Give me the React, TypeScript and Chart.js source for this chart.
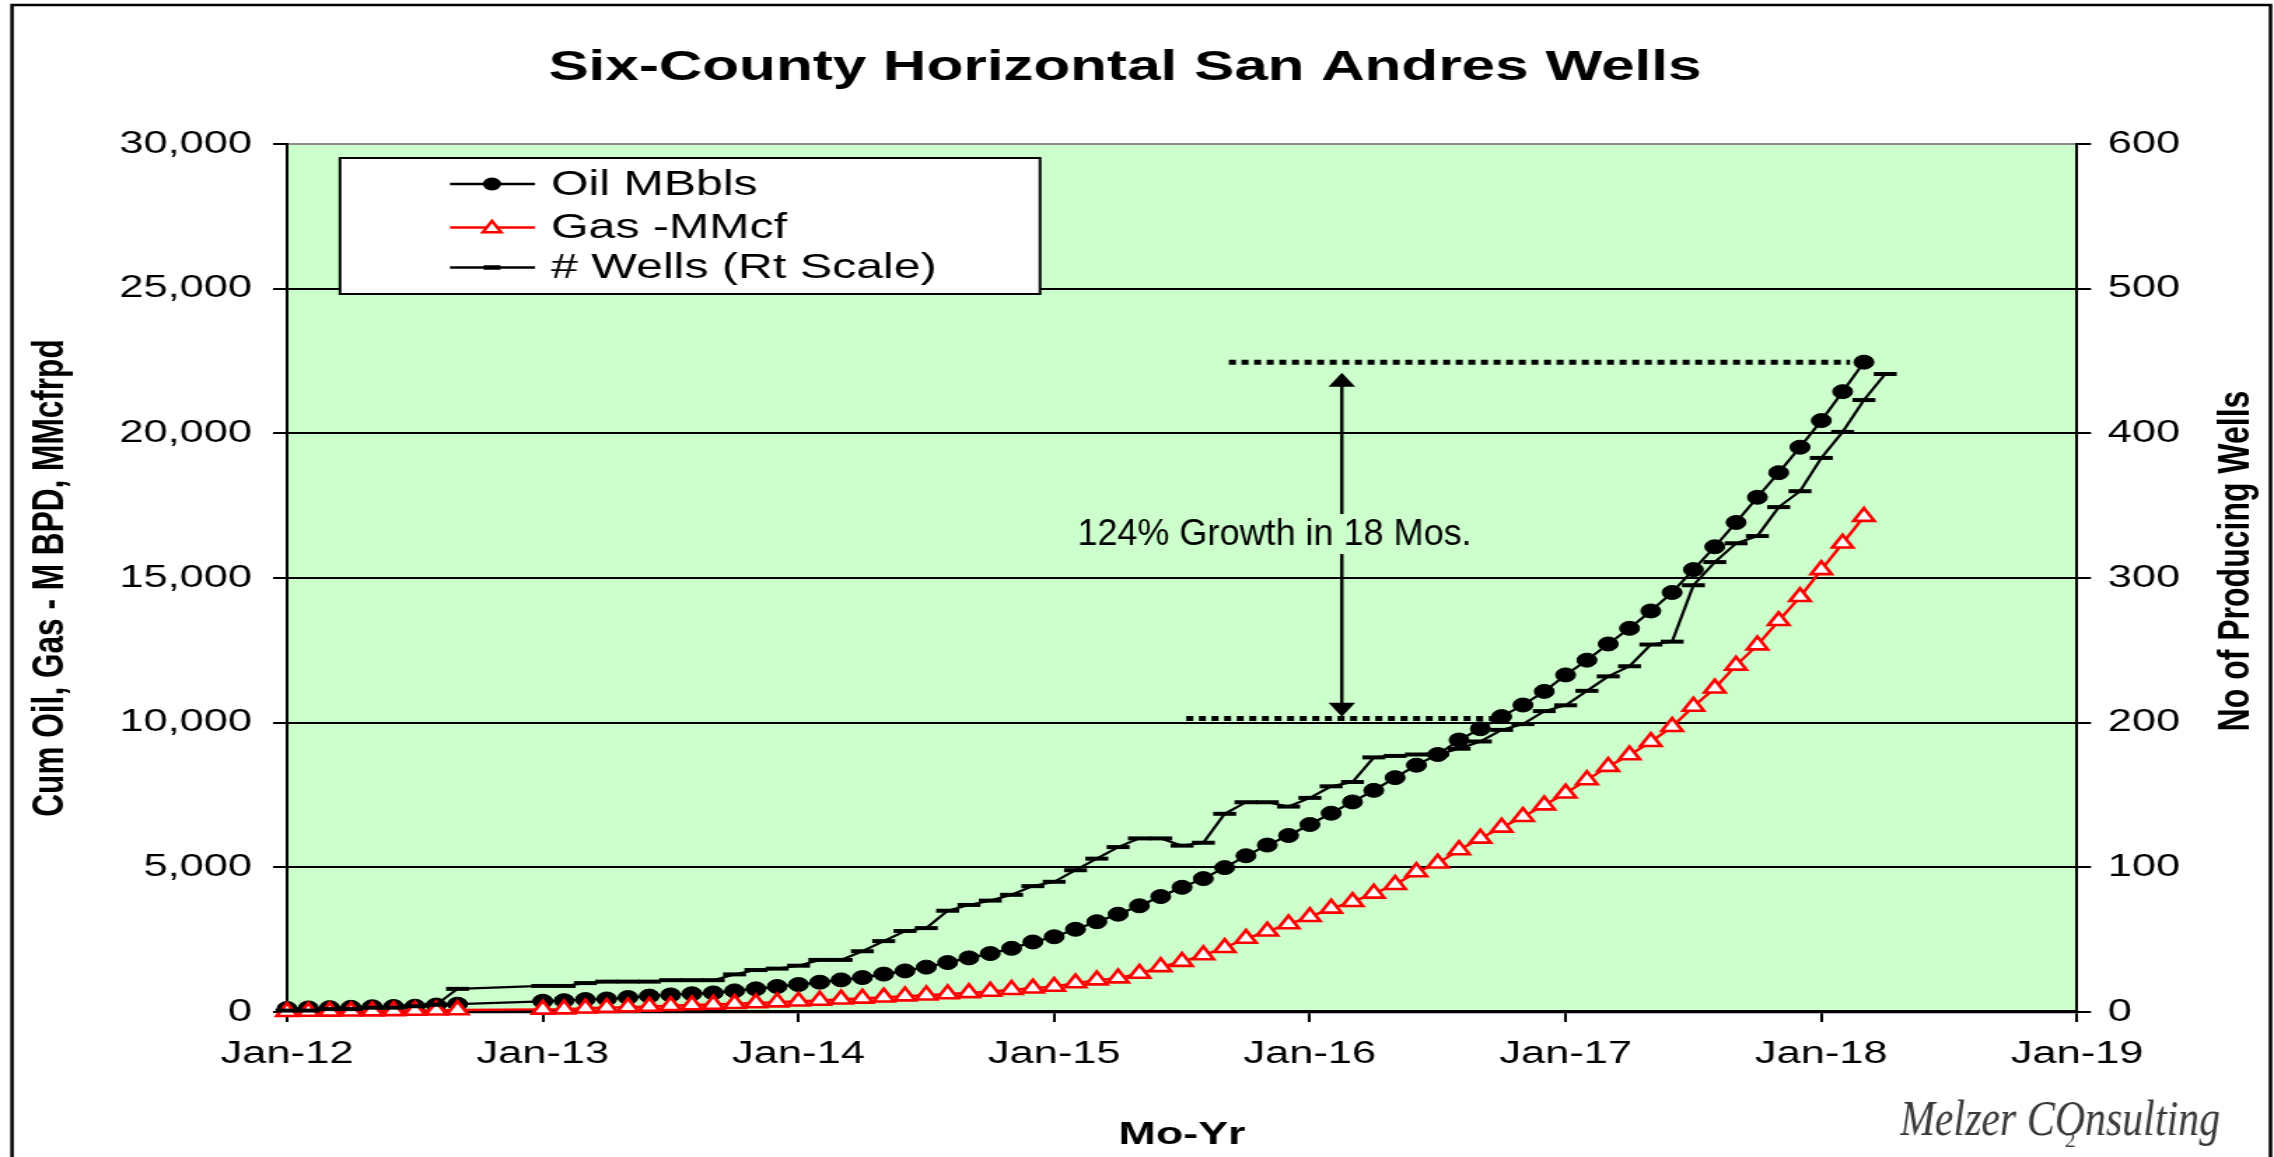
import { useEffect, useRef } from 'react';
import { Chart, registerables } from 'chart.js';

Chart.register(...registerables);

// ---------- canvas geometry (the reference is horizontally stretched, so we draw narrow and stretch via CSS)
const PAGE_W = 2274;
const CANVAS_W = 1624;
const CANVAS_H = 1157;
const S = PAGE_W / CANVAS_W;
const fx = (x: number) => x / S; // page px -> canvas px (horizontal)

const FONT = "'Liberation Sans', Arial, Helvetica, sans-serif";

// ---------- texts
const chartTitle = 'Six-County Horizontal San Andres Wells';
const yAxisTitle = 'Cum Oil, Gas - M BPD, MMcfrpd';
const y1AxisTitle = 'No of Producing Wells';
const xAxisTitle = 'Mo-Yr';
const seriesLabels = ['Oil MBbls', 'Gas -MMcf', '# Wells (Rt Scale)'];
const growthText = '124% Growth in 18 Mos.';
const signature = 'Melzer COnsulting';
const slideNumber = '2';

// ---------- axes
const xTickLabels = ['Jan-12', 'Jan-13', 'Jan-14', 'Jan-15', 'Jan-16', 'Jan-17', 'Jan-18', 'Jan-19'];
const MONTH_NAMES = ['Jan', 'Feb', 'Mar', 'Apr', 'May', 'Jun', 'Jul', 'Aug', 'Sep', 'Oct', 'Nov', 'Dec'];

// ---------- data (monthly; Oct-12..Dec-12 not reported)
const months = [
  'Jan-12', 'Feb-12', 'Mar-12', 'Apr-12', 'May-12', 'Jun-12', 'Jul-12', 'Aug-12', 'Sep-12',
  'Jan-13', 'Feb-13', 'Mar-13', 'Apr-13', 'May-13', 'Jun-13', 'Jul-13', 'Aug-13', 'Sep-13', 'Oct-13', 'Nov-13', 'Dec-13',
  'Jan-14', 'Feb-14', 'Mar-14', 'Apr-14', 'May-14', 'Jun-14', 'Jul-14', 'Aug-14', 'Sep-14', 'Oct-14', 'Nov-14', 'Dec-14',
  'Jan-15', 'Feb-15', 'Mar-15', 'Apr-15', 'May-15', 'Jun-15', 'Jul-15', 'Aug-15', 'Sep-15', 'Oct-15', 'Nov-15', 'Dec-15',
  'Jan-16', 'Feb-16', 'Mar-16', 'Apr-16', 'May-16', 'Jun-16', 'Jul-16', 'Aug-16', 'Sep-16', 'Oct-16', 'Nov-16', 'Dec-16',
  'Jan-17', 'Feb-17', 'Mar-17', 'Apr-17', 'May-17', 'Jun-17', 'Jul-17', 'Aug-17', 'Sep-17', 'Oct-17', 'Nov-17', 'Dec-17',
  'Jan-18', 'Feb-18', 'Mar-18', 'Apr-18',
];

const oilMBbls: (number | null)[] = [
  120, 140, 150, 160, 180, 190, 200, 240, 270,
  370, 390, 430, 450, 500, 550, 590, 630, 660, 730, 800, 880,
  950, 1030, 1110, 1190, 1310, 1420, 1550, 1710, 1870, 2020, 2200, 2420,
  2600, 2860, 3120, 3380, 3670, 3990, 4310, 4610, 4990, 5400, 5770, 6100,
  6480, 6870, 7260, 7660, 8100, 8530, 8900, 9400, 9790, 10210, 10610, 11080,
  11650, 12160, 12720, 13260, 13860, 14500, 15290, 16080, 16920, 17790, 18640, 19520,
  20440, 21440, 22460, null,
];

const gasMMcf: (number | null)[] = [
  10, 15, 20, 25, 30, 40, 50, 60, 70,
  90, 100, 130, 150, 170, 190, 215, 240, 260, 285, 310, 340,
  370, 400, 440, 470, 510, 550, 580, 620, 660, 710, 770, 820,
  880, 1000, 1100, 1170, 1330, 1560, 1740, 1970, 2220, 2540, 2790, 3040,
  3290, 3580, 3810, 4100, 4400, 4840, 5140, 5600, 6000, 6380, 6750, 7150,
  7560, 8020, 8480, 8880, 9340, 9860, 10560, 11190, 11980, 12680, 13520, 14350,
  15280, 16200, 17120, null,
];

const producingWells: (number | null)[] = [
  1, 1, 2, 2, 3, 3, 4, 5, 16,
  18, 18, 20, 21, 21, 21, 22, 22, 22, 26, 29, 30,
  32, 36, 36, 42, 49, 56, 58, 70, 74, 77, 81, 87,
  90, 98, 106, 114, 120, 120, 115, 117, 137, 145, 145, 142,
  148, 156, 159, 176, 177, 178, 178, 182, 187, 195, 199, 208,
  212, 222, 232, 239, 254, 256, 295, 311, 324, 329, 349, 360,
  383, 401, 423, 441,
];

// ---------- annotation (in data units: month index since Jan-12, oil MBbls)
const growthLowLevel = 10140;
const growthHighLevel = 22460;
const lowLineMonths = [42.2, 56.7];
const highLineMonths = [44.2, 73.35];
const arrowMonth = 49.5;
const arrowTips = [10206, 22095];

const monthIndex = (label: string) => {
  const [m, y] = label.split('-');
  return (Number(y) - 12) * 12 + MONTH_NAMES.indexOf(m);
};

const toPoints = (values: (number | null)[]) =>
  months
    .map((m, i) => (values[i] == null ? null : { x: monthIndex(m), y: values[i] as number }))
    .filter((p): p is { x: number; y: number } => p !== null);

const GREEN = '#CCFFCC';
const OIL_R = 7;
const GAS_R = 8.5;
const WELL_R = 8.2;

function drawTriangle(ctx: CanvasRenderingContext2D, x: number, y: number, r: number) {
  ctx.beginPath();
  ctx.moveTo(x, y - r);
  ctx.lineTo(x + 0.866 * r, y + 0.5 * r);
  ctx.lineTo(x - 0.866 * r, y + 0.5 * r);
  ctx.closePath();
}

const decorPlugin = {
  id: 'decor',
  beforeDraw(chart: any) {
    const { ctx, chartArea: a } = chart;
    ctx.save();
    ctx.fillStyle = '#fff';
    ctx.fillRect(0, 0, chart.width, chart.height);
    ctx.fillStyle = GREEN;
    ctx.fillRect(a.left, a.top, a.right - a.left, a.bottom - a.top);
    ctx.restore();
  },
  afterDraw(chart: any) {
    const ctx: CanvasRenderingContext2D = chart.ctx;
    const xs = chart.scales.x;
    const ys = chart.scales.y;
    ctx.save();

    // outer frame
    ctx.strokeStyle = '#000';
    ctx.lineWidth = 2.5;
    ctx.strokeRect(fx(12), 5, fx(2270.5) - fx(12), CANVAS_H + 40);

    // title
    ctx.fillStyle = '#000';
    ctx.font = `bold 43px ${FONT}`;
    ctx.textAlign = 'center';
    ctx.textBaseline = 'alphabetic';
    ctx.fillText(chartTitle, fx(1125), 80);

    // legend
    const lx0 = fx(340), lx1 = fx(1040), ly0 = 158, ly1 = 294;
    ctx.fillStyle = '#fff';
    ctx.fillRect(lx0, ly0, lx1 - lx0, ly1 - ly0);
    ctx.strokeStyle = '#000';
    ctx.lineWidth = 2;
    ctx.strokeRect(lx0, ly0, lx1 - lx0, ly1 - ly0);
    const rowsY = [184, 227.5, 267.5];
    const colors = ['#000', '#FF0000', '#000'];
    const sx0 = fx(450), sx1 = fx(535), sxm = fx(492);
    rowsY.forEach((ry, i) => {
      ctx.strokeStyle = colors[i];
      ctx.lineWidth = 2.4;
      ctx.beginPath();
      ctx.moveTo(sx0, ry);
      ctx.lineTo(sx1, ry);
      ctx.stroke();
      if (i === 0) {
        ctx.fillStyle = '#000';
        ctx.beginPath();
        ctx.arc(sxm, ry, 6.5, 0, Math.PI * 2);
        ctx.fill();
      } else if (i === 1) {
        drawTriangle(ctx, sxm, ry + 1, 7.5);
        ctx.fillStyle = '#fff';
        ctx.fill();
        ctx.lineWidth = 2.5;
        ctx.strokeStyle = '#FF0000';
        ctx.stroke();
      } else {
        ctx.strokeStyle = '#000';
        ctx.lineWidth = 4.5;
        ctx.beginPath();
        ctx.moveTo(sxm - 6, ry);
        ctx.lineTo(sxm + 6, ry);
        ctx.stroke();
      }
      ctx.fillStyle = '#000';
      ctx.font = `34.5px ${FONT}`;
      ctx.textAlign = 'left';
      ctx.textBaseline = 'middle';
      ctx.fillText(chart.data.datasets[i].label, fx(551), ry + 1);
    });

    // growth annotation: dotted levels
    ctx.strokeStyle = '#000';
    ctx.lineWidth = 5;
    ctx.setLineDash([5, 4]);
    const yHigh = ys.getPixelForValue(growthHighLevel);
    const yLow = ys.getPixelForValue(growthLowLevel);
    ctx.beginPath();
    ctx.moveTo(xs.getPixelForValue(highLineMonths[0]), yHigh);
    ctx.lineTo(xs.getPixelForValue(highLineMonths[1]), yHigh);
    ctx.moveTo(xs.getPixelForValue(lowLineMonths[0]), yLow);
    ctx.lineTo(xs.getPixelForValue(lowLineMonths[1]), yLow);
    ctx.stroke();
    ctx.setLineDash([]);

    // double arrow
    const ax = xs.getPixelForValue(arrowMonth);
    const yBot = ys.getPixelForValue(arrowTips[0]);
    const yTop = ys.getPixelForValue(arrowTips[1]);
    const headH = 14, headW = 9.5;
    ctx.lineWidth = 2.4;
    ctx.beginPath();
    ctx.moveTo(ax, yTop + headH - 1);
    ctx.lineTo(ax, yBot - headH + 1);
    ctx.stroke();
    ctx.fillStyle = '#000';
    ctx.beginPath();
    ctx.moveTo(ax, yTop);
    ctx.lineTo(ax + headW, yTop + headH);
    ctx.lineTo(ax - headW, yTop + headH);
    ctx.closePath();
    ctx.fill();
    ctx.beginPath();
    ctx.moveTo(ax, yBot);
    ctx.lineTo(ax + headW, yBot - headH);
    ctx.lineTo(ax - headW, yBot - headH);
    ctx.closePath();
    ctx.fill();

    // growth text (not stretched in the reference)
    ctx.save();
    ctx.translate(fx(1274.5), 534);
    ctx.scale(1 / S, 1);
    ctx.font = `36px ${FONT}`;
    const tw = ctx.measureText(growthText).width;
    ctx.fillStyle = GREEN;
    ctx.fillRect(-tw / 2 - 6, -20, tw + 12, 40);
    ctx.fillStyle = '#000';
    ctx.textAlign = 'center';
    ctx.textBaseline = 'middle';
    ctx.fillText(growthText, 0, 1);
    ctx.restore();

    // right axis title
    ctx.save();
    ctx.translate(fx(2237), 561);
    ctx.rotate(-Math.PI / 2);
    ctx.font = `bold 32px ${FONT}`;
    ctx.fillStyle = '#000';
    ctx.textAlign = 'center';
    ctx.textBaseline = 'middle';
    ctx.fillText(y1AxisTitle, 0, 0);
    ctx.restore();

    // signature (fit to the reference width, taller glyphs)
    ctx.save();
    ctx.translate(fx(1900), 1135);
    const sigFamily = "'Liberation Serif', 'DejaVu Serif', serif";
    ctx.font = `italic 50px ${sigFamily}`;
    const sw = ctx.measureText(signature).width;
    ctx.scale(320 / S / sw, 1);
    ctx.fillStyle = '#3a3a3a';
    ctx.textAlign = 'left';
    ctx.textBaseline = 'alphabetic';
    ctx.fillText(signature, 0, 0);
    ctx.restore();

    ctx.save();
    ctx.translate(fx(2070), 1147);
    ctx.scale(1 / S, 1);
    ctx.font = `22px 'Liberation Serif', serif`;
    ctx.fillStyle = '#444';
    ctx.textAlign = 'center';
    ctx.textBaseline = 'alphabetic';
    ctx.fillText(slideNumber, 0, 0);
    ctx.restore();

    ctx.restore();
  },
};

export default function App() {
  const canvasRef = useRef<HTMLCanvasElement | null>(null);

  useEffect(() => {
    if (!canvasRef.current) return;
    const tickFont = { family: FONT, size: 31 };
    const chart = new Chart(canvasRef.current, {
      type: 'line',
      data: {
        datasets: [
          {
            label: seriesLabels[0],
            data: toPoints(oilMBbls),
            yAxisID: 'y',
            borderColor: '#000',
            backgroundColor: '#000',
            borderWidth: 2.2,
            pointStyle: 'circle',
            pointRadius: OIL_R,
            pointBackgroundColor: '#000',
            pointBorderColor: '#000',
            pointBorderWidth: 1,
            tension: 0,
            clip: false,
            order: 2,
            spanGaps: true,
            fill: false,
          },
          {
            label: seriesLabels[1],
            data: toPoints(gasMMcf),
            yAxisID: 'y',
            borderColor: '#FF0000',
            backgroundColor: '#FFFFFF',
            borderWidth: 2.4,
            pointStyle: 'triangle',
            pointRadius: GAS_R,
            pointBackgroundColor: '#FFFFFF',
            pointBorderColor: '#FF0000',
            pointBorderWidth: 2.6,
            tension: 0,
            clip: false,
            order: 1,
            spanGaps: true,
            fill: false,
          },
          {
            label: seriesLabels[2],
            data: toPoints(producingWells),
            yAxisID: 'y1',
            borderColor: '#000',
            backgroundColor: '#000',
            borderWidth: 2.2,
            pointStyle: 'line',
            pointRadius: WELL_R,
            pointBorderColor: '#000',
            pointBorderWidth: 4,
            tension: 0,
            clip: false,
            order: 0,
            spanGaps: true,
            fill: false,
          },
        ],
      },
      options: {
        animation: false,
        responsive: false,
        devicePixelRatio: 1,
        events: [],
        layout: { padding: { top: 144, left: 0, right: 0, bottom: 0 } },
        plugins: {
          legend: { display: false },
          title: { display: false },
          tooltip: { enabled: false },
        },
        scales: {
          x: {
            type: 'linear',
            min: 0,
            max: 84,
            afterFit: (s: any) => {
              s.height = CANVAS_H - 1012;
            },
            ticks: {
              stepSize: 12,
              color: '#000',
              font: tickFont,
              padding: 14,
              maxRotation: 0,
              autoSkip: false,
              callback: (v: any) => xTickLabels[Math.round(Number(v) / 12)] ?? '',
            },
            grid: { drawOnChartArea: false, drawTicks: true, tickLength: 10, color: '#000', lineWidth: 2 },
            border: { display: true, color: '#000', width: 3.3 },
            title: {
              display: true,
              text: xAxisTitle,
              color: '#000',
              font: { family: FONT, size: 32, weight: 'bold' },
              padding: { top: 0, bottom: 3 },
            },
          },
          y: {
            type: 'linear',
            position: 'left',
            min: 0,
            max: 30000,
            afterFit: (s: any) => {
              s.width = 205;
            },
            ticks: {
              stepSize: 5000,
              color: '#000',
              font: tickFont,
              padding: 15,
              callback: (v: any) => Number(v).toLocaleString('en-US'),
            },
            grid: {
              color: (c: any) => (c.tick && c.tick.value === 30000 ? '#8c8c8c' : '#000'),
              lineWidth: 2,
              tickLength: 10,
              tickColor: '#000',
              tickWidth: 2,
            },
            border: { display: true, color: '#000', width: 2 },
            title: {
              display: true,
              text: yAxisTitle,
              color: '#000',
              font: { family: FONT, size: 31.6, weight: 'bold' },
              padding: { top: 17.7, bottom: 0 },
            },
          },
          y1: {
            type: 'linear',
            position: 'right',
            min: 0,
            max: 600,
            afterFit: (s: any) => {
              s.width = CANVAS_W - fx(2077);
            },
            ticks: { stepSize: 100, color: '#000', font: tickFont, padding: 12 },
            grid: { drawOnChartArea: false, tickLength: 10, color: '#000', lineWidth: 2 },
            border: { display: true, color: '#000', width: 2 },
          },
        },
      } as any,
      plugins: [decorPlugin],
    });
    return () => chart.destroy();
  }, []);

  return (
    <div style={{ position: 'fixed', left: 0, top: 0, width: PAGE_W, height: CANVAS_H, background: '#fff' }}>
      <canvas
        ref={canvasRef}
        width={CANVAS_W}
        height={CANVAS_H}
        style={{ width: PAGE_W, height: CANVAS_H, display: 'block' }}
      />
    </div>
  );
}
